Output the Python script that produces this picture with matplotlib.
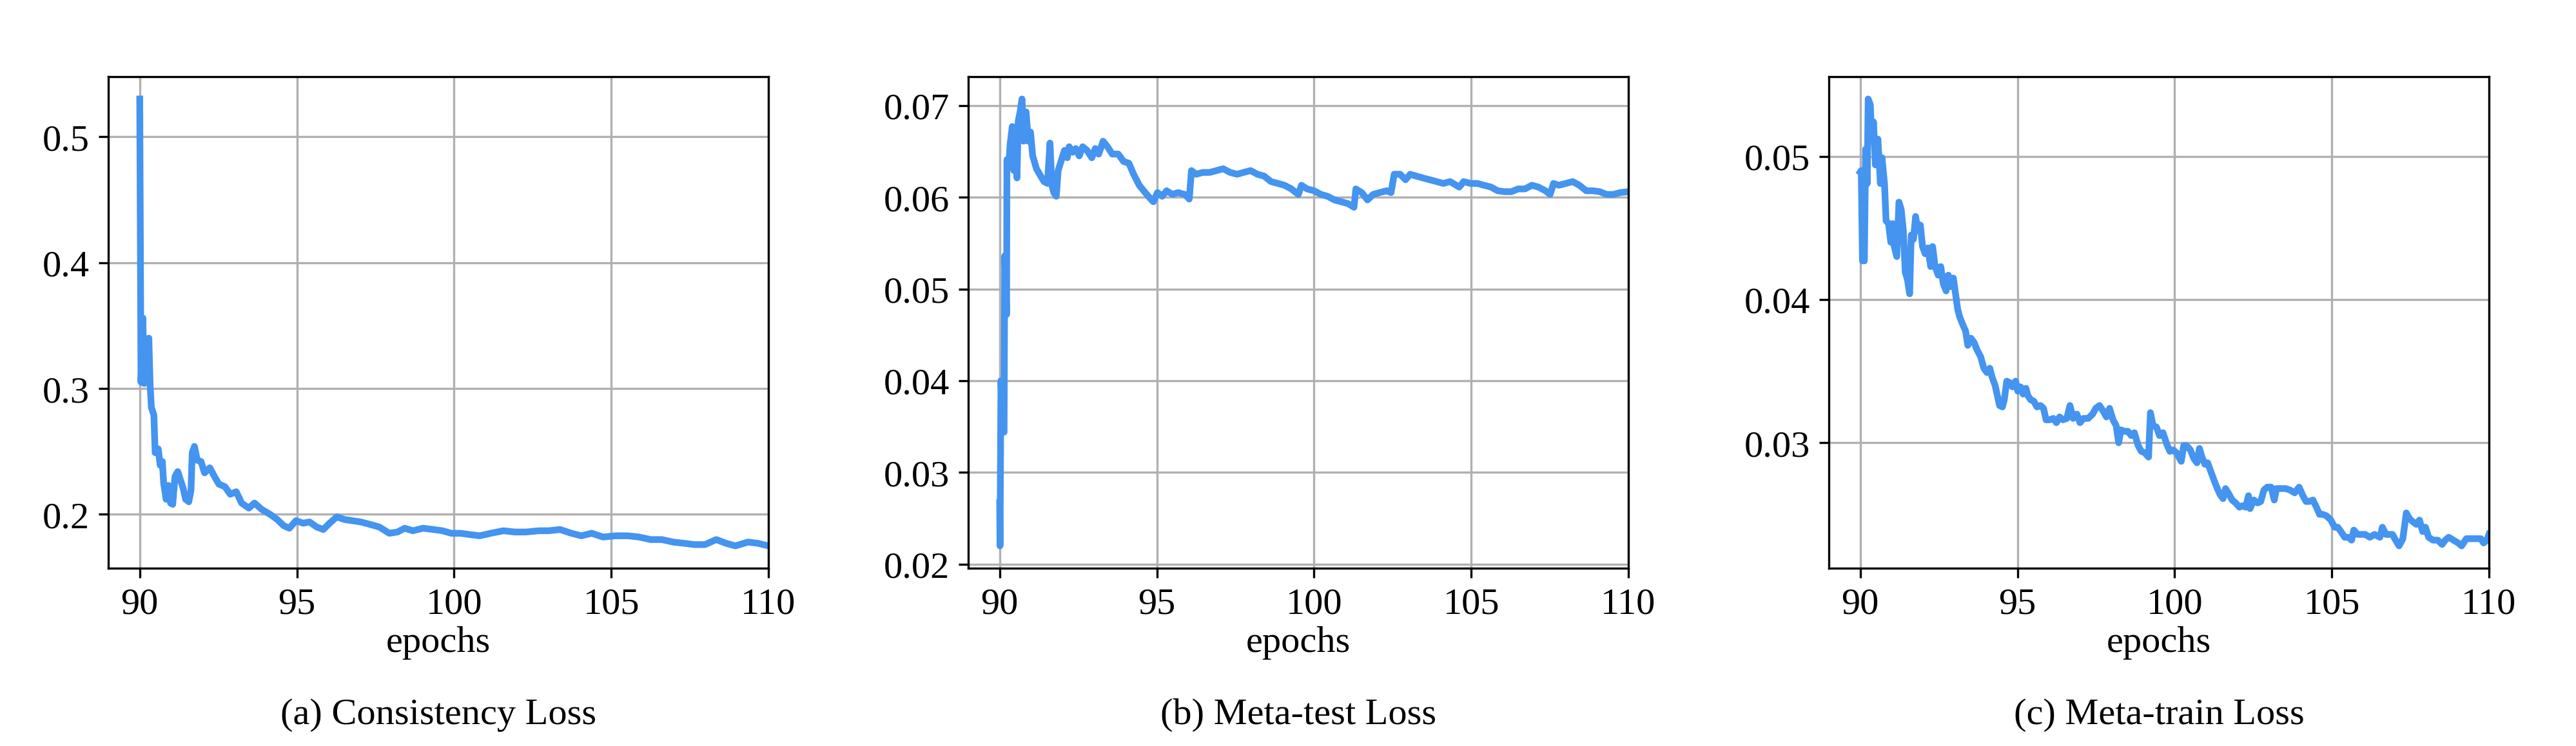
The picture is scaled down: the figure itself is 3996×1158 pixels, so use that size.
import numpy as np
import matplotlib
matplotlib.use('Agg')
import matplotlib.pyplot as plt

plt.rcParams['font.family'] = ['Liberation Serif', 'DejaVu Serif']
plt.rcParams['font.size'] = 14

### Consistency loss
EpochsA = [90.00, 90.04, 90.10, 90.14, 90.24, 90.29, 90.33, 90.37, 90.45, 90.49,
           90.59, 90.65, 90.72, 90.76, 90.84, 90.91, 90.98, 91.05, 91.12, 91.21,
           91.30, 91.38, 91.46, 91.56, 91.63, 91.67, 91.74, 91.83, 91.95, 92.06,
           92.23, 92.38, 92.52, 92.71, 92.88, 93.07, 93.24, 93.47, 93.65, 93.88,
           94.15, 94.37, 94.58, 94.76, 94.97, 95.20, 95.40, 95.63, 95.84, 96.04,
           96.27, 96.50, 96.76, 97.03, 97.33, 97.62, 97.94, 98.20, 98.43, 98.69,
           99.01, 99.34, 99.63, 99.91, 100.20, 100.49, 100.82, 101.17, 101.57, 101.93,
           102.29, 102.69, 103.01, 103.37, 103.73, 104.05, 104.38, 104.74, 105.14, 105.53,
           105.89, 106.25, 106.61, 106.97, 107.33, 107.65, 107.98, 108.34, 108.66, 108.95,
           109.35, 109.67, 110.00]
ConsistencyLoss = [0.530, 0.305, 0.356, 0.304, 0.305, 0.340, 0.303, 0.285, 0.279, 0.249,
                   0.252, 0.239, 0.242, 0.225, 0.212, 0.223, 0.209, 0.208, 0.230, 0.234,
                   0.227, 0.221, 0.212, 0.210, 0.219, 0.249, 0.254, 0.243, 0.242, 0.233,
                   0.237, 0.230, 0.224, 0.222, 0.216, 0.218, 0.209, 0.205, 0.209, 0.204,
                   0.200, 0.196, 0.191, 0.189, 0.195, 0.193, 0.194, 0.190, 0.188, 0.193,
                   0.198, 0.196, 0.195, 0.194, 0.192, 0.190, 0.185, 0.186, 0.189, 0.187,
                   0.189, 0.188, 0.187, 0.185, 0.185, 0.184, 0.183, 0.185, 0.187, 0.186,
                   0.186, 0.187, 0.187, 0.188, 0.185, 0.183, 0.185, 0.182, 0.183, 0.183,
                   0.182, 0.180, 0.180, 0.178, 0.177, 0.176, 0.176, 0.180, 0.177, 0.175,
                   0.178, 0.177, 0.175]

### Meta-test loss
EpochsB = [90.00, 90.01, 90.04, 90.09, 90.14, 90.16, 90.22, 90.23, 90.29, 90.33,
           90.40, 90.45, 90.51, 90.55, 90.59, 90.65, 90.71, 90.76, 90.84, 90.91,
           90.98, 91.05, 91.17, 91.27, 91.41, 91.52, 91.60, 91.66, 91.72, 91.80,
           91.86, 91.95, 92.06, 92.15, 92.21, 92.32, 92.42, 92.53, 92.64, 92.78,
           92.93, 93.04, 93.15, 93.29, 93.43, 93.58, 93.77, 93.94, 94.11, 94.26,
           94.44, 94.63, 94.78, 94.89, 95.02, 95.17, 95.31, 95.50, 95.67, 95.89,
           96.03, 96.10, 96.25, 96.46, 96.68, 96.90, 97.11, 97.33, 97.55, 97.76,
           97.98, 98.20, 98.41, 98.63, 98.85, 99.06, 99.28, 99.50, 99.60, 99.78,
           100.00, 100.22, 100.43, 100.65, 100.87, 101.08, 101.27, 101.33, 101.52, 101.70,
           101.88, 102.09, 102.31, 102.45, 102.55, 102.74, 102.91, 103.06, 103.25, 103.46,
           103.68, 103.90, 104.11, 104.33, 104.62, 104.76, 104.98, 105.19, 105.41, 105.63,
           105.84, 106.06, 106.28, 106.49, 106.71, 106.93, 107.14, 107.36, 107.51, 107.62,
           107.79, 108.01, 108.23, 108.44, 108.66, 108.87, 109.09, 109.31, 109.52, 109.74,
           110.00]
MetaTestLoss = [0.0267, 0.0220, 0.0400, 0.0344, 0.0344, 0.0536, 0.0472, 0.0641, 0.0633, 0.0657,
                0.0677, 0.0629, 0.0653, 0.0621, 0.0683, 0.0693, 0.0707, 0.0661, 0.0693, 0.0661,
                0.0671, 0.0645, 0.0631, 0.0625, 0.0617, 0.0615, 0.0659, 0.0613, 0.0605, 0.0601,
                0.0629, 0.0639, 0.0651, 0.0643, 0.0655, 0.0649, 0.0653, 0.0645, 0.0655, 0.0651,
                0.0643, 0.0653, 0.0647, 0.0661, 0.0655, 0.0647, 0.0647, 0.0639, 0.0637, 0.0625,
                0.0613, 0.0605, 0.0599, 0.0595, 0.0605, 0.0601, 0.0607, 0.0603, 0.0605, 0.0603,
                0.0598, 0.0629, 0.0625, 0.0627, 0.0627, 0.0629, 0.0631, 0.0627, 0.0625, 0.0627,
                0.0629, 0.0625, 0.0623, 0.0617, 0.0615, 0.0613, 0.0609, 0.0603, 0.0613, 0.0609,
                0.0607, 0.0603, 0.0601, 0.0597, 0.0595, 0.0593, 0.0589, 0.0609, 0.0605, 0.0597,
                0.0603, 0.0605, 0.0607, 0.0605, 0.0625, 0.0625, 0.0619, 0.0625, 0.0623, 0.0621,
                0.0619, 0.0617, 0.0615, 0.0617, 0.0611, 0.0617, 0.0615, 0.0615, 0.0613, 0.0611,
                0.0607, 0.0606, 0.0606, 0.0609, 0.0609, 0.0613, 0.0611, 0.0607, 0.0603, 0.0615,
                0.0613, 0.0615, 0.0617, 0.0613, 0.0607, 0.0607, 0.0606, 0.0603, 0.0603, 0.0605,
                0.0606]

### Meta-train loss
EpochsC = [90.00, 90.03, 90.07, 90.13, 90.17, 90.22, 90.25, 90.32, 90.36, 90.42,
           90.48, 90.56, 90.64, 90.69, 90.77, 90.82, 90.90, 90.97, 91.03, 91.08,
           91.16, 91.23, 91.30, 91.37, 91.43, 91.50, 91.57, 91.62, 91.69, 91.76,
           91.83, 91.91, 91.98, 92.06, 92.15, 92.24, 92.30, 92.38, 92.48, 92.56,
           92.64, 92.73, 92.80, 92.87, 92.96, 93.03, 93.10, 93.16, 93.25, 93.35,
           93.42, 93.52, 93.62, 93.71, 93.83, 93.93, 94.03, 94.12, 94.19, 94.29,
           94.36, 94.43, 94.52, 94.58, 94.66, 94.75, 94.84, 94.94, 95.01, 95.10,
           95.18, 95.27, 95.33, 95.42, 95.52, 95.62, 95.73, 95.83, 95.91, 96.02,
           96.14, 96.24, 96.34, 96.45, 96.57, 96.67, 96.77, 96.89, 96.99, 97.10,
           97.25, 97.39, 97.49, 97.61, 97.73, 97.83, 97.93, 98.04, 98.14, 98.22,
           98.29, 98.40, 98.51, 98.62, 98.72, 98.84, 98.94, 99.05, 99.17, 99.23,
           99.31, 99.42, 99.52, 99.63, 99.75, 99.85, 99.95, 100.06, 100.21, 100.29,
           100.38, 100.50, 100.61, 100.71, 100.79, 100.87, 100.96, 101.05, 101.15, 101.25,
           101.34, 101.44, 101.54, 101.62, 101.73, 101.83, 101.94, 102.06, 102.16, 102.26,
           102.35, 102.40, 102.52, 102.64, 102.74, 102.84, 102.95, 103.07, 103.17, 103.24,
           103.39, 103.53, 103.67, 103.82, 103.96, 104.08, 104.18, 104.28, 104.40, 104.51,
           104.61, 104.71, 104.83, 104.97, 105.09, 105.19, 105.29, 105.41, 105.53, 105.63,
           105.70, 105.82, 105.92, 106.06, 106.21, 106.36, 106.53, 106.61, 106.72, 106.83,
           106.93, 107.03, 107.14, 107.26, 107.37, 107.47, 107.57, 107.69, 107.79, 107.89,
           107.98, 108.08, 108.22, 108.37, 108.51, 108.61, 108.72, 108.87, 109.02, 109.13,
           109.28, 109.42, 109.60, 109.74, 109.83, 109.93, 110.00]
MetaTrainLoss = [0.0489, 0.0490, 0.0427, 0.0427, 0.0505, 0.0481, 0.0540, 0.0536, 0.0512, 0.0524,
                 0.0494, 0.0512, 0.0481, 0.0499, 0.0481, 0.0455, 0.0453, 0.0440, 0.0453, 0.0437,
                 0.0430, 0.0468, 0.0463, 0.0448, 0.0419, 0.0414, 0.0404, 0.0445, 0.0442, 0.0458,
                 0.0448, 0.0452, 0.0437, 0.0432, 0.0436, 0.0423, 0.0437, 0.0423, 0.0417, 0.0423,
                 0.0411, 0.0406, 0.0417, 0.0409, 0.0415, 0.0404, 0.0393, 0.0388, 0.0383, 0.0378,
                 0.0368, 0.0373, 0.0370, 0.0365, 0.0360, 0.0352, 0.0349, 0.0352, 0.0346, 0.0340,
                 0.0333, 0.0326, 0.0325, 0.0330, 0.0343, 0.0342, 0.0339, 0.0343, 0.0336, 0.0339,
                 0.0334, 0.0338, 0.0333, 0.0330, 0.0329, 0.0325, 0.0326, 0.0324, 0.0316, 0.0316,
                 0.0317, 0.0314, 0.0318, 0.0316, 0.0317, 0.0326, 0.0317, 0.0320, 0.0314, 0.0317,
                 0.0317, 0.0320, 0.0324, 0.0326, 0.0322, 0.0318, 0.0324, 0.0316, 0.0312, 0.0300,
                 0.0309, 0.0308, 0.0308, 0.0305, 0.0307, 0.0298, 0.0294, 0.0293, 0.0290, 0.0321,
                 0.0312, 0.0311, 0.0305, 0.0307, 0.0299, 0.0294, 0.0295, 0.0293, 0.0287, 0.0298,
                 0.0298, 0.0295, 0.0289, 0.0286, 0.0296, 0.0290, 0.0285, 0.0286, 0.0280, 0.0274,
                 0.0269, 0.0264, 0.0261, 0.0268, 0.0264, 0.0260, 0.0258, 0.0255, 0.0256, 0.0255,
                 0.0263, 0.0254, 0.0260, 0.0258, 0.0259, 0.0267, 0.0269, 0.0269, 0.0260, 0.0268,
                 0.0268, 0.0268, 0.0267, 0.0265, 0.0269, 0.0263, 0.0259, 0.0259, 0.0260, 0.0255,
                 0.0250, 0.0250, 0.0249, 0.0246, 0.0241, 0.0241, 0.0238, 0.0234, 0.0234, 0.0232,
                 0.0239, 0.0236, 0.0236, 0.0236, 0.0234, 0.0236, 0.0234, 0.0241, 0.0236, 0.0236,
                 0.0236, 0.0232, 0.0228, 0.0233, 0.0251, 0.0247, 0.0245, 0.0243, 0.0246, 0.0238,
                 0.0241, 0.0234, 0.0232, 0.0232, 0.0229, 0.0232, 0.0234, 0.0232, 0.0230, 0.0228,
                 0.0233, 0.0233, 0.0233, 0.0233, 0.0230, 0.0232, 0.0236]

Captions = ['(a) Consistency Loss', '(b) Meta-test Loss', '(c) Meta-train Loss']
YTicks = [[0.2, 0.3, 0.4, 0.5],
          [0.02, 0.03, 0.04, 0.05, 0.06, 0.07],
          [0.03, 0.04, 0.05]]

fig = plt.figure(figsize=(13.32, 3.8633), dpi=300)
Lefts = [168/3996, 1502/3996, 2837/3996]
W = 1024/3996
H = 763/1159
B = 1 - 883/1159

Series = [(EpochsA, ConsistencyLoss), (EpochsB, MetaTestLoss), (EpochsC, MetaTrainLoss)]
for i in range(3):
    ax = fig.add_axes([Lefts[i], B, W, H])
    ax.plot(Series[i][0], Series[i][1], color='#4494F0', linewidth=2.5)
    ax.set_xlim(89, 110)
    ax.set_xticks([90, 95, 100, 105, 110])
    ax.set_yticks(YTicks[i])
    ax.set_xlabel('epochs', labelpad=2)
    ax.grid()
    fig.text(Lefts[i] + W/2, 1 - 1110/1159, Captions[i], ha='center', va='center')
### Plots the three losses

plt.savefig('out.png', dpi=300)
